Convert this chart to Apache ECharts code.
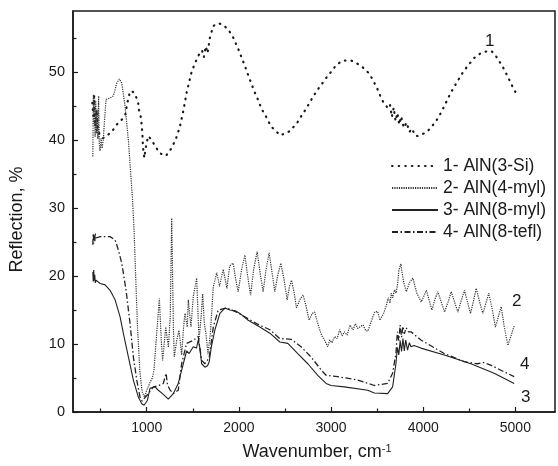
<!DOCTYPE html>
<html><head><meta charset="utf-8">
<script src="https://cdn.jsdelivr.net/npm/echarts@6/dist/echarts.min.js"></script>
<style>html,body{margin:0;padding:0;background:#fff}#c{width:558px;height:466px}</style>
</head><body><div id="c"></div>
<script>
// ---- data ----
const seriesNames = ['1- AlN(3-Si)', '2- AlN(4-myl)', '3- AlN(8-myl)', '4- AlN(8-tefl)'];
const xTickLabels = [1000, 2000, 3000, 4000, 5000];
const xMinorTicks = [500, 1500, 2500, 3500, 4500];
const yTickLabels = [0, 10, 20, 30, 40, 50];
const yMinorTicks = [5, 15, 25, 35, 45, 55];
const curveLabels = ['1', '2', '3', '4'];

const s1 = [[410,45.5],[420,43.5],[430,46.5],[440,42],[455,44.5],[470,41.5],[490,40.8],[520,40.3],[548,40.4],[573,40.7],[624,41.3],[675,42.3],[722,42.9],[765,43.6],[790,45.5],[819,47.2],[850,47.1],[873,46.8],[906,45.6],[917,44.4],[938,43.3],[946,42.1],[953,40.9],[957,39.7],[963,38.6],[974,37.4],[985,38.5],[1000,39.7],[1017,40.6],[1036,40.3],[1090,39.2],[1137,38.1],[1209,37.7],[1263,38.7],[1315,40.1],[1360,42.0],[1397,44.3],[1433,47.0],[1488,50.1],[1530,51.5],[1559,52.4],[1600,53.2],[1620,52.2],[1640,53.8],[1660,52.8],[1686,55.1],[1722,56.8],[1776,57.2],[1823,57.0],[1884,56.3],[1938,55.1],[2003,53.1],[2065,50.9],[2119,48.9],[2173,47.0],[2209,45.9],[2246,44.6],[2293,43.5],[2350,42.0],[2450,40.7],[2550,41.3],[2630,42.5],[2679,43.6],[2733,44.7],[2788,46.0],[2842,47.2],[2896,48.2],[2950,49.2],[3004,50.1],[3058,51.1],[3130,51.7],[3221,51.7],[3292,51.2],[3365,50.5],[3419,49.7],[3455,48.8],[3498,47.7],[3528,46.7],[3563,45.7],[3617,44.7],[3640,45.2],[3660,43.4],[3680,44.8],[3700,42.8],[3720,44.0],[3740,42.3],[3760,43.5],[3790,41.8],[3820,42.6],[3850,41.2],[3880,41.7],[3910,40.7],[3939,40.6],[4029,41.1],[4083,41.8],[4148,43.0],[4192,44.0],[4246,45.5],[4300,47.0],[4373,48.7],[4427,49.9],[4481,50.9],[4554,52.1],[4625,52.8],[4698,53.1],[4741,53.1],[4788,52.4],[4835,51.4],[4879,50.4],[4933,48.9],[4968,47.9],[5004,47.0]];

const s2 = [[415,37.6],[421,46.7],[428,42.5],[434,46.2],[440,40.5],[447,45.8],[455,41.0],[462,44.5],[470,40.2],[478,46.5],[485,39.5],[494,38.4],[505,40.3],[515,38.8],[527,39.8],[545,43.5],[559,46.0],[602,46.2],[638,46.5],[675,48.4],[703,49.0],[729,48.4],[765,45.0],[801,40.0],[819,36.5],[845,31.5],[862,27.0],[880,20.0],[900,12.5],[925,6.0],[950,3.0],[975,2.2],[1000,3.2],[1035,4.3],[1060,5.0],[1079,6.2],[1105,11.0],[1137,16.7],[1160,10.0],[1173,7.6],[1206,12.5],[1235,9.5],[1255,14.0],[1271,28.5],[1290,12.0],[1299,8.1],[1325,10.5],[1350,12.0],[1379,8.4],[1400,12.5],[1415,14.5],[1440,12.5],[1451,16.5],[1480,12.5],[1505,17.0],[1542,19.7],[1567,10.6],[1590,14.0],[1607,17.4],[1625,13.0],[1642,11.6],[1665,8.5],[1690,11.5],[1722,18.4],[1760,20.5],[1790,18.5],[1830,21.0],[1870,18.2],[1900,21.5],[1938,21.9],[1965,19.5],[1992,17.7],[2030,21.0],[2065,23.1],[2095,20.0],[2127,17.2],[2160,21.0],[2198,23.6],[2230,20.5],[2263,17.7],[2295,21.0],[2328,23.4],[2360,20.5],[2390,17.7],[2420,20.0],[2455,21.9],[2490,19.5],[2523,16.5],[2550,18.5],[2571,19.4],[2600,17.5],[2625,15.3],[2660,16.5],[2697,17.2],[2730,15.5],[2762,13.5],[2795,14.5],[2823,14.7],[2850,13.3],[2877,12.1],[2900,11.2],[2921,10.8],[2964,9.6],[2986,10.6],[3010,10.2],[3040,11.1],[3065,10.8],[3094,12.1],[3120,11.2],[3145,11.8],[3175,11.3],[3205,12.8],[3238,12.1],[3265,13.0],[3290,12.3],[3320,12.6],[3347,12.8],[3375,12.0],[3400,11.9],[3440,13.5],[3473,14.7],[3506,14.8],[3530,13.5],[3546,13.3],[3570,14.5],[3596,15.5],[3620,16.8],[3640,16.0],[3654,17.5],[3668,16.8],[3690,18.0],[3705,17.5],[3723,18.9],[3735,20.8],[3744,21.2],[3758,21.8],[3770,20.5],[3790,19.0],[3817,17.7],[3850,19.0],[3888,19.7],[3930,17.5],[3979,16.2],[4005,17.0],[4034,17.9],[4064,16.5],[4094,15.0],[4125,16.5],[4159,17.7],[4195,16.2],[4232,14.7],[4270,16.2],[4304,17.7],[4340,16.2],[4376,14.7],[4410,16.3],[4448,17.9],[4480,16.2],[4513,14.5],[4545,16.3],[4575,18.2],[4610,16.3],[4647,14.5],[4680,16.0],[4712,17.5],[4750,15.0],[4784,12.5],[4815,14.0],[4846,15.5],[4880,12.5],[4918,9.8],[4955,11.3],[4990,12.8]];

const s3 = [[415,20.6],[420,19.2],[425,20.9],[430,19.3],[436,20.2],[442,19.0],[450,19.4],[494,18.9],[548,18.7],[602,17.9],[657,16.5],[711,14.0],[746,11.6],[801,8.1],[855,4.7],[909,2.2],[946,1.2],[971,1.0],[990,1.1],[1007,1.7],[1036,3.5],[1090,3.7],[1126,3.2],[1180,2.6],[1234,1.9],[1288,2.7],[1342,4.2],[1397,7.1],[1433,9.0],[1460,8.6],[1505,9.6],[1540,9.4],[1559,10.6],[1575,9.5],[1596,7.1],[1632,6.6],[1660,6.8],[1678,7.4],[1700,9.5],[1740,12.1],[1794,14.5],[1848,15.3],[1902,15.0],[1960,14.9],[2011,14.5],[2101,13.5],[2227,12.5],[2336,11.6],[2444,10.3],[2531,10.1],[2639,8.6],[2748,7.1],[2856,5.4],[2946,4.2],[3000,3.9],[3145,3.7],[3398,3.2],[3470,2.8],[3614,2.7],[3668,3.7],[3704,7.1],[3720,9.5],[3735,8.4],[3750,10.5],[3765,8.9],[3780,10.8],[3795,9.0],[3810,10.6],[3830,9.1],[3850,10.2],[3867,9.6],[3900,9.8],[3975,9.4],[4228,8.4],[4517,7.1],[4770,5.7],[4987,4.2]];

const s4 = [[415,24.6],[420,26.3],[425,24.8],[430,26.0],[436,25.0],[440,26.3],[450,25.6],[494,25.8],[602,25.8],[657,25.3],[693,23.8],[729,21.9],[776,17.9],[819,13.0],[855,8.1],[892,4.7],[927,2.2],[950,1.6],[971,1.5],[1017,2.7],[1072,3.7],[1130,3.9],[1180,4.2],[1210,5.7],[1225,4.0],[1250,3.3],[1288,2.7],[1342,3.2],[1379,7.1],[1433,10.1],[1500,10.5],[1559,11.1],[1596,7.6],[1632,7.1],[1678,8.0],[1722,12.5],[1776,15.0],[1867,15.3],[1975,14.7],[2065,14.0],[2192,13.0],[2336,12.1],[2444,10.8],[2567,10.7],[2675,9.6],[2783,8.1],[2892,6.2],[2946,5.4],[3073,5.2],[3289,4.7],[3470,3.9],[3614,4.2],[3668,5.7],[3704,8.6],[3720,11.8],[3735,10.5],[3750,12.8],[3765,11.0],[3780,12.6],[3795,11.5],[3815,12.4],[3840,11.8],[3867,11.8],[3975,10.6],[4228,8.6],[4445,7.4],[4540,7.2],[4589,7.1],[4650,7.3],[4733,6.9],[4879,5.9],[4987,5.2]];

// ---- chart ----
const FONT = '"Liberation Sans", Arial, sans-serif';
const INK = '#1a1a1a';
const X_MIN = 200, X_MAX = 5430, Y_MIN = 0, Y_MAX = 59;
const chart = echarts.init(document.getElementById('c'), null, {renderer: 'canvas'});

const boxLine = {show: true, lineStyle: {color: INK, width: 1.5}};
const noSplit = {show: false};
const plain = v => String(v);

chart.setOption({
  animation: false,
  backgroundColor: '#fff',
  grid: {left: 73, top: 11, right: 3, bottom: 54, containLabel: false,
         show: true, borderColor: INK, borderWidth: 1.5, backgroundColor: 'transparent'},
  xAxis: [
    {type: 'value', min: X_MIN, max: X_MAX, position: 'bottom',
     axisLine: boxLine, splitLine: noSplit,
     axisTick: {show: true, inside: true, length: 5, customValues: xTickLabels, lineStyle: {color: INK, width: 1.2}},
     axisLabel: {show: true, customValues: xTickLabels, formatter: plain, fontSize: 14, color: INK, fontFamily: FONT, margin: 9},
     name: '{t|Wavenumber, cm}{s|-1}', nameLocation: 'middle', nameGap: 31,
     nameTextStyle: {fontFamily: FONT, color: INK, padding: [0, 0, 0, 6],
       rich: {t: {fontSize: 18, fontFamily: FONT, color: INK}, s: {fontSize: 11, fontFamily: FONT, color: INK, verticalAlign: 'top'}}}},
    {type: 'value', min: X_MIN, max: X_MAX, position: 'bottom',
     axisLine: {show: false}, splitLine: noSplit, axisLabel: {show: false},
     axisTick: {show: true, inside: true, length: 3.5, customValues: xMinorTicks, lineStyle: {color: INK, width: 1.2}}}
  ],
  yAxis: [
    {type: 'value', min: Y_MIN, max: Y_MAX, position: 'left',
     axisLine: boxLine, splitLine: noSplit,
     axisTick: {show: true, inside: true, length: 5, customValues: yTickLabels, lineStyle: {color: INK, width: 1.2}},
     axisLabel: {show: true, customValues: yTickLabels, formatter: plain, fontSize: 14.5, color: INK, fontFamily: FONT, margin: 8},
     name: 'Reflection, %', nameLocation: 'middle', nameGap: 47,
     nameTextStyle: {fontSize: 18, fontFamily: FONT, color: INK, padding: [0, 16, 0, 0]}},
    {type: 'value', min: Y_MIN, max: Y_MAX, position: 'left',
     axisLine: {show: false}, splitLine: noSplit, axisLabel: {show: false},
     axisTick: {show: true, inside: true, length: 3.5, customValues: yMinorTicks, lineStyle: {color: INK, width: 1.2}}}
  ],
  legend: {
    orient: 'vertical', left: 386, top: 152, itemWidth: 46, itemHeight: 12, itemGap: 4,
    itemStyle: {opacity: 0},
    textStyle: {fontSize: 17.5, fontFamily: FONT, color: INK},
    data: seriesNames
  },
  graphic: [
    {type: 'text', left: 485, top: 33, style: {text: curveLabels[0], font: '17px ' + FONT, fill: INK}},
    {type: 'text', left: 512, top: 293, style: {text: curveLabels[1], font: '17px ' + FONT, fill: INK}},
    {type: 'text', left: 521, top: 389, style: {text: curveLabels[2], font: '17px ' + FONT, fill: INK}},
    {type: 'text', left: 520, top: 356, style: {text: curveLabels[3], font: '17px ' + FONT, fill: INK}}
  ],
  series: [
    {name: seriesNames[0], type: 'line', data: s1, symbol: 'none', showSymbol: false,
     lineStyle: {color: '#1a1a1a', width: 2.2, type: [0.6, 6], cap: 'round'}, itemStyle: {color: '#1a1a1a'}},
    {name: seriesNames[1], type: 'line', data: s2, symbol: 'none', showSymbol: false,
     lineStyle: {color: '#333', width: 1.2, type: [1.2, 1.1]}, itemStyle: {color: '#333'}},
    {name: seriesNames[2], type: 'line', data: s3, symbol: 'none', showSymbol: false,
     lineStyle: {color: '#222', width: 1.1, type: 'solid'}, itemStyle: {color: '#222'}},
    {name: seriesNames[3], type: 'line', data: s4, symbol: 'none', showSymbol: false,
     lineStyle: {color: '#222', width: 1.3, type: [6, 2.5, 1.5, 2.5]}, itemStyle: {color: '#222'}}
  ]
});
</script>
</body></html>
